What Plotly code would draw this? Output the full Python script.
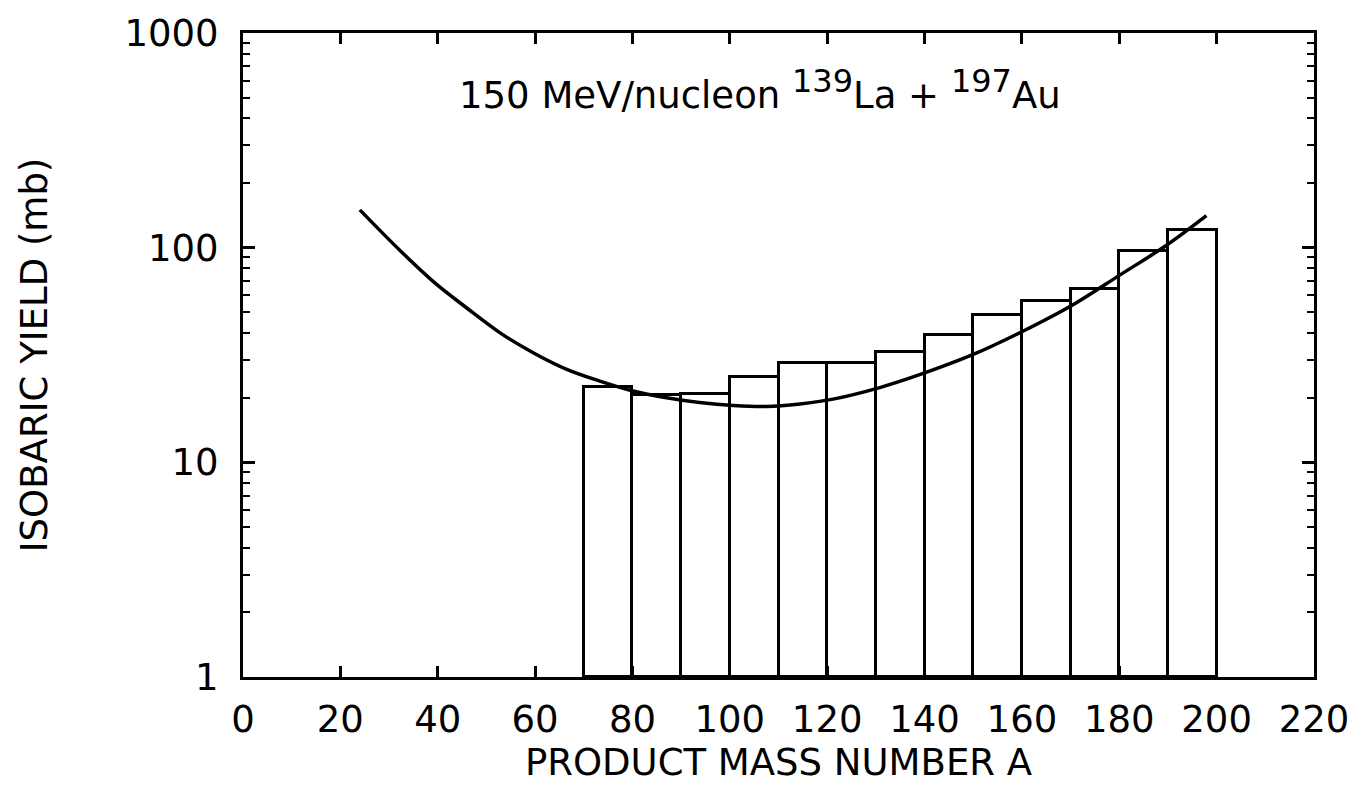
import plotly.graph_objects as go

# Histogram bins (product mass number A) and isobaric yields (mb)
bin_left = [70, 80, 90, 100, 110, 120, 130, 140, 150, 160, 170, 180, 190]
bin_width = 10
yields = [21.5, 19.7, 19.9, 23.9, 28.1, 28.1, 31.8, 38.0, 47.5, 55.7, 63.3, 95.9, 120.0]

# Smooth fit curve
curve_A = [24.0, 32.2, 39.1, 45.9, 52.8, 59.6, 66.5, 73.3, 80.1, 87.0, 93.8, 100.7,
           107.5, 114.4, 121.2, 130.8, 139.0, 150.0, 160.2, 170.5, 180.1, 189.7, 197.9]
curve_y = [150, 97.3, 69.5, 52.5, 40.1, 32.4, 27.1, 23.9, 21.5, 20.0, 19.0, 18.4,
           18.2, 18.7, 19.7, 22.3, 25.6, 31.8, 40.8, 54.2, 74.5, 102.6, 141]

x_ticks = list(range(0, 221, 20))
y_ticks = [1, 10, 100, 1000]
y_ticktext = ["1", "10", "100", "1000"]
y_minor = [m * d for d in (1, 10, 100) for m in range(2, 10)]

FONT = "DejaVu Sans, Verdana, sans-serif"
FS = 37

fig = go.Figure()
fig.add_trace(go.Bar(
    x=[b + bin_width / 2 for b in bin_left],
    y=yields,
    width=bin_width,
    base=1,
    marker=dict(color="white", line=dict(color="black", width=3)),
    showlegend=False,
))
fig.add_trace(go.Scatter(
    x=curve_A, y=curve_y, mode="lines",
    line=dict(color="black", width=3.5, shape="spline", smoothing=1.0),
    showlegend=False,
))

axis_common = dict(
    showline=True, linecolor="black", linewidth=3, mirror="ticks",
    ticks="inside", tickcolor="black", tickwidth=2.5,
    showgrid=False, zeroline=False,
    tickfont=dict(family=FONT, size=FS, color="black"),
)

fig.update_xaxes(
    range=[0, 220], tickvals=x_ticks, ticklen=11, ticklabelstandoff=8,
    title=dict(text="PRODUCT MASS NUMBER A", font=dict(family=FONT, size=FS, color="black"), standoff=6),
    **axis_common,
)
fig.update_yaxes(
    type="log", range=[0, 3], tickvals=y_ticks, ticktext=y_ticktext, ticklen=12,
    ticklabelstandoff=14,
    minor=dict(tickvals=y_minor, ticks="inside", ticklen=7, tickwidth=2, tickcolor="black", showgrid=False),
    title=dict(text="ISOBARIC YIELD (mb)", font=dict(family=FONT, size=FS, color="black"), standoff=66),
    **axis_common,
)

fig.add_annotation(
    x=(760 - 243) / 1071, y=(677 - 55) / 649, xref="paper", yref="paper", showarrow=False,
    text="150 MeV/nucleon <sup><span style='font-size:32px'>139</span></sup>La + "
         "<sup><span style='font-size:32px'>197</span></sup>Au",
    font=dict(family=FONT, size=FS, color="black"),
)

fig.update_layout(
    width=1369, height=811,
    margin=dict(l=243, r=55, t=28, b=134),
    paper_bgcolor="white", plot_bgcolor="white",
    bargap=0,
)

fig.write_html("out.html")
